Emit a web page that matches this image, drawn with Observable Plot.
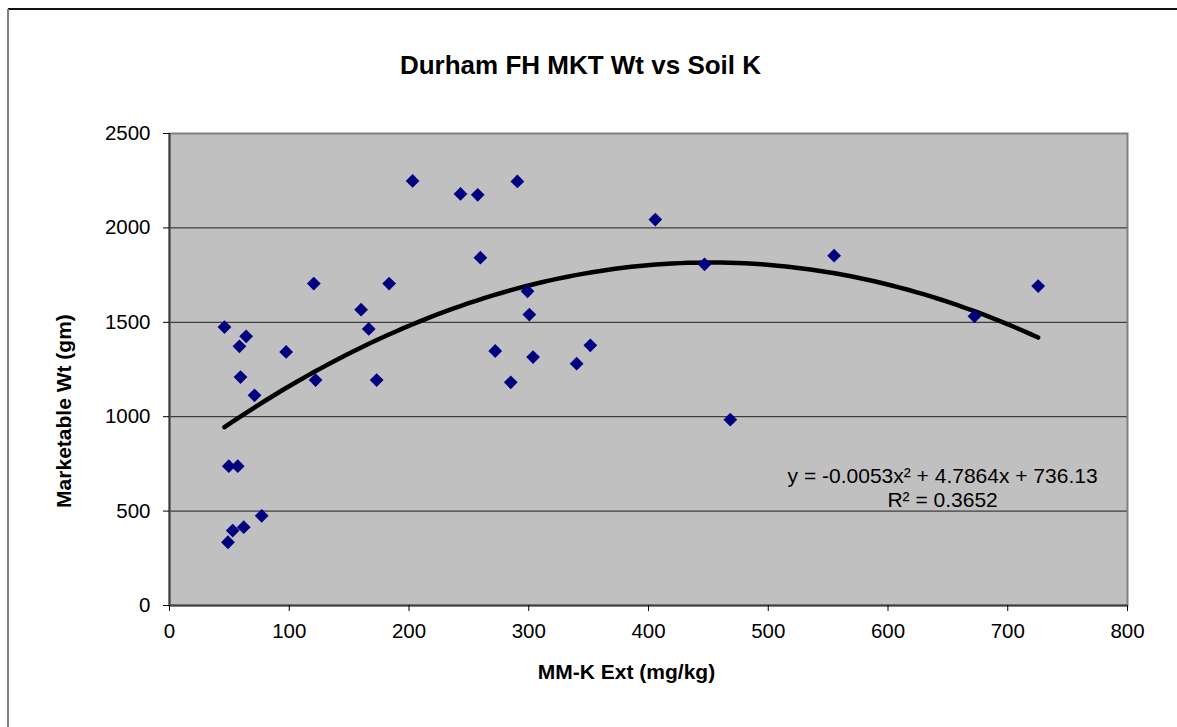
<!DOCTYPE html>
<html>
<head>
<meta charset="utf-8">
<script src="https://cdn.jsdelivr.net/npm/d3@7"></script>
<script src="https://cdn.jsdelivr.net/npm/@observablehq/plot@0.6"></script>
<style>
  html, body { margin: 0; padding: 0; background: #fff; overflow: hidden; }
  #chart { width: 1177px; height: 727px; overflow: hidden; }
  #chart svg { display: block; }
</style>
</head>
<body>
<div id="chart"></div>
<script>
// Data
const kExt = [45.9, 48.8, 49.5, 52.8, 57, 58.4, 59.3, 62, 64, 71, 77, 97.4, 120.5, 122, 160, 166.4, 173, 183.4,
  203, 243, 257.4, 259.6, 272, 285, 290.5, 299, 300.5, 303.6, 340, 351.4, 405.7, 446.8, 468.3, 555, 672.2, 725.4];
const mktWt = [1475, 335, 738, 397, 738, 1373, 1210, 415, 1426, 1113, 475, 1343, 1705, 1194, 1567, 1465, 1194, 1705,
  2249, 2180, 2175, 1842, 1348, 1182, 2246, 1664, 1541, 1316, 1281, 1378, 2044, 1807, 984, 1853, 1532, 1692];

// Trendline coefficients as displayed on the chart
const trendA = -0.0053, trendB = 4.7864, trendC = 736.13;
const equationLines = ["y = -0.0053x\u00B2 + 4.7864x + 736.13", "R\u00B2 = 0.3652"];

const xTicks = [0, 100, 200, 300, 400, 500, 600, 700, 800];
const yTicks = [0, 500, 1000, 1500, 2000, 2500];
const gridValues = [500, 1000, 1500, 2000];

const titleText = "Durham FH MKT Wt vs Soil K";
const xTitle = "MM-K Ext (mg/kg)";
const yTitle = "Marketable Wt (gm)";

const points = kExt.map((x, i) => ({x, y: mktWt[i]}));
const xMin = d3.min(kExt), xMax = d3.max(kExt);
const trend = d3.range(0, 101).map(i => {
  const x = xMin + (xMax - xMin) * i / 100;
  return {x, y: trendA * x * x + trendB * x + trendC};
});

const font = "'Liberation Sans', Arial, sans-serif";

const chart = Plot.plot({
  width: 1177,
  height: 727,
  marginLeft: 169,
  marginRight: 50,
  marginTop: 133,
  marginBottom: 122,
  style: {fontFamily: font, background: "white", color: "black", overflow: "hidden"},
  x: {domain: [0, 800]},
  y: {domain: [0, 2500]},
  marks: [
    Plot.frame({fill: "#c0c0c0", stroke: "none"}),
    Plot.gridY(gridValues, {stroke: "#000", strokeOpacity: 0.85, strokeWidth: 1}),
    Plot.frame({stroke: "#808080", strokeWidth: 2}),
    Plot.ruleX([0], {stroke: "#404040", strokeWidth: 2}),
    Plot.ruleY([0], {stroke: "#404040", strokeWidth: 2}),
    Plot.axisY({ticks: yTicks, tickSize: 6, tickPadding: 13, fontSize: 20.5, tickFormat: d => String(d), label: null, stroke: "#000"}),
    Plot.axisX({ticks: xTicks, tickSize: 6, tickPadding: 12, fontSize: 20.5, tickFormat: d => String(d), label: null, stroke: "#000"}),
    Plot.line(trend, {x: "x", y: "y", stroke: "black", strokeWidth: 4.5, curve: "linear"}),
    Plot.dot(points, {x: "x", y: "y", symbol: "diamond2", fill: "#000080", stroke: "none", r: 6.2}),
    Plot.text([equationLines[0]], {x: 645.6, y: 682, text: d => d, fontSize: 21, textAnchor: "middle", fill: "black"}),
    Plot.text([equationLines[1]], {x: 645.6, y: 556.5, text: d => d, fontSize: 21, textAnchor: "middle", fill: "black"}),
    Plot.text([titleText], {frameAnchor: "top", dx: -68, dy: -78.3, text: d => d, fontSize: 26, fontWeight: "bold", fill: "black"}),
    Plot.text([xTitle], {frameAnchor: "bottom", dx: -22, dy: 73.3, text: d => d, fontSize: 21, fontWeight: "bold", fill: "black"}),
    Plot.text([yTitle], {x: -88, y: 1030, rotate: -90, clip: false, text: d => d, fontSize: 21, fontWeight: "bold", fill: "black"})
  ]
});

const svg = d3.select(chart);
svg.append("rect").attr("x", 1160).attr("y", 12).attr("width", 20).attr("height", 720).attr("fill", "white");
svg.append("line").attr("x1", 8).attr("y1", 9).attr("x2", 1177).attr("y2", 9)
  .attr("stroke", "#111").attr("stroke-width", 2);
svg.append("line").attr("x1", 8).attr("y1", 9).attr("x2", 8).attr("y2", 727)
  .attr("stroke", "#808080").attr("stroke-width", 2);

document.getElementById("chart").appendChild(chart);
</script>
</body>
</html>
